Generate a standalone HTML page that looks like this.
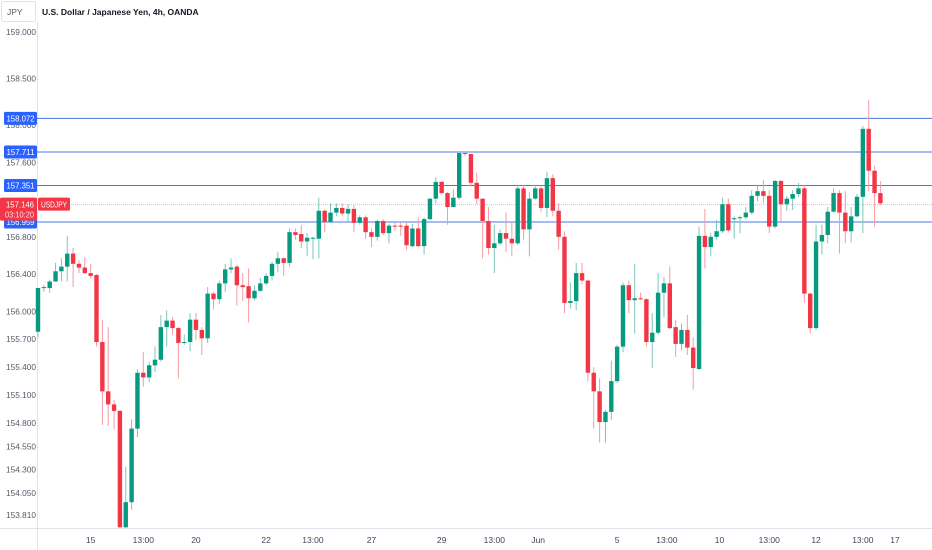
<!DOCTYPE html>
<html><head><meta charset="utf-8">
<style>
body{margin:0;background:#fff;font-family:"Liberation Sans",sans-serif;}
#wrap{position:relative;width:932px;height:550px;overflow:hidden;background:#fff;}
svg text{font-family:"Liberation Sans",sans-serif;}
</style></head>
<body>
<div id="wrap">
<svg id="chart" width="932" height="550"></svg>
</div>
<script>
const opens=[155.78,156.25,156.25,156.32,156.43,156.48,156.62,156.51,156.47,156.41,156.39,155.67,155.14,155.00,154.93,153.68,153.95,154.74,155.34,155.29,155.42,155.48,155.83,155.90,155.82,155.66,155.67,155.91,155.80,155.71,156.19,156.13,156.30,156.45,156.48,156.28,156.27,156.14,156.22,156.30,156.38,156.51,156.57,156.52,156.85,156.83,156.75,156.79,156.78,157.08,156.96,157.06,157.11,157.05,157.10,156.95,157.01,156.85,156.80,156.97,156.84,156.92,156.92,156.92,156.70,156.89,156.70,156.99,157.21,157.39,157.27,157.12,157.22,157.70,157.69,157.38,157.21,156.97,156.68,156.73,156.84,156.78,156.73,157.32,156.88,157.21,157.32,157.11,157.43,157.08,156.80,156.09,156.11,156.41,156.33,155.34,155.14,154.81,154.92,155.25,155.62,156.28,156.12,156.14,156.13,155.67,155.77,156.20,156.30,155.83,155.65,155.80,155.61,155.38,156.81,156.69,156.80,156.86,157.15,156.99,157.00,157.01,157.06,157.24,157.29,157.24,156.91,157.40,157.15,157.21,157.26,157.32,156.19,155.82,156.75,156.82,157.07,157.27,157.06,156.86,157.02,157.23,157.96,157.51,157.27];
const highs=[156.25,156.28,156.34,156.52,156.57,156.81,156.68,156.55,156.58,156.51,156.40,155.91,155.83,155.05,154.94,154.33,154.84,155.38,155.56,155.46,155.62,155.96,156.01,155.94,155.83,155.75,155.98,155.98,155.83,156.26,156.21,156.33,156.51,156.57,156.50,156.41,156.46,156.28,156.36,156.41,156.53,156.64,156.58,156.89,156.89,156.93,156.84,156.80,157.22,157.09,157.16,157.16,157.16,157.15,157.14,157.03,157.03,156.89,156.98,156.99,156.94,156.95,156.95,156.95,156.94,157.01,157.01,157.21,157.44,157.40,157.28,157.31,157.70,157.72,157.69,157.49,157.21,157.12,156.93,156.88,157.06,156.96,157.36,157.36,157.28,157.36,157.36,157.50,157.47,157.16,156.86,156.31,156.52,156.52,156.34,155.40,155.28,154.94,155.47,155.64,156.31,156.33,156.51,156.20,156.14,155.98,156.41,156.37,156.48,155.91,155.87,155.96,155.72,156.91,157.10,156.84,156.98,157.22,157.21,157.02,157.03,157.12,157.30,157.36,157.41,157.30,157.41,157.41,157.24,157.30,157.38,157.36,156.20,156.93,156.93,157.12,157.32,157.30,157.29,157.12,157.26,157.99,158.27,157.56,157.40];
const lows=[155.72,156.21,156.20,156.32,156.32,156.32,156.26,156.41,156.40,156.35,155.62,154.78,154.77,154.73,153.67,153.67,153.87,154.65,155.19,155.24,155.35,155.46,155.62,155.75,155.28,155.64,155.57,155.69,155.53,155.66,156.02,156.08,156.21,156.41,156.06,156.11,155.88,156.12,156.21,156.28,156.33,156.42,156.38,156.48,156.77,156.68,156.59,156.56,156.57,156.85,156.95,157.02,157.02,156.96,156.85,156.93,156.78,156.69,156.76,156.82,156.73,156.87,156.81,156.66,156.69,156.69,156.61,156.98,157.16,157.26,156.93,157.12,157.20,157.67,157.34,157.15,156.57,156.61,156.41,156.71,156.64,156.59,156.71,156.77,156.59,157.20,157.07,157.01,157.02,156.66,155.98,156.03,156.01,156.29,155.25,154.74,154.59,154.59,154.83,155.23,155.56,155.98,155.76,156.12,155.62,155.39,155.75,155.94,155.81,155.51,155.58,155.53,155.16,155.37,156.46,156.59,156.77,156.84,156.85,156.78,156.84,156.99,157.04,157.18,157.16,156.84,156.89,156.96,157.08,157.09,157.23,156.09,155.76,155.80,156.61,156.73,157.06,156.62,156.73,156.74,157.01,156.84,157.29,156.91,157.14];
const closes=[156.25,156.26,156.32,156.43,156.48,156.62,156.51,156.47,156.41,156.38,155.67,155.14,155.00,154.93,153.68,153.95,154.74,155.34,155.29,155.42,155.48,155.83,155.90,155.82,155.66,155.67,155.91,155.80,155.71,156.19,156.13,156.30,156.45,156.47,156.28,156.26,156.14,156.22,156.30,156.38,156.51,156.57,156.52,156.85,156.82,156.75,156.79,156.79,157.08,156.96,157.06,157.11,157.05,157.10,156.95,157.01,156.85,156.80,156.97,156.84,156.92,156.91,156.91,156.71,156.89,156.70,156.99,157.21,157.39,157.27,157.12,157.22,157.70,157.69,157.38,157.21,156.97,156.68,156.73,156.84,156.78,156.73,157.32,156.88,157.21,157.32,157.11,157.43,157.08,156.80,156.09,156.11,156.41,156.33,155.34,155.14,154.81,154.92,155.25,155.62,156.28,156.12,156.14,156.13,155.67,155.77,156.20,156.30,155.82,155.65,155.80,155.61,155.39,156.81,156.69,156.80,156.86,157.15,156.87,157.00,157.01,157.06,157.24,157.29,157.24,156.91,157.40,157.15,157.21,157.26,157.32,156.19,155.82,156.75,156.82,157.07,157.27,157.06,156.86,157.02,157.23,157.96,157.51,157.27,157.16];
const priceTicks=[159.000,158.500,158.000,157.600,157.100,156.800,156.400,156.000,155.700,155.400,155.100,154.800,154.550,154.300,154.050,153.810];
const levelLines=[158.072,157.711,157.351,156.959];
const currentPrice=157.146;
const timeLabels=["15","13:00","20","22","13:00","27","29","13:00","Jun","5","13:00","10","13:00","12","13:00","17"];
const timeLabelIdx=[9,18,27,39,47,57,69,78,85.5,99,107.5,116.5,125,133,141,146.5];

const NS="http://www.w3.org/2000/svg";
const svg=document.getElementById('chart');
function yS(p){return 32+(159-p)*93.1;}
function xS(i){return 38+i*5.85;}
function el(tag,attrs,parent){const e=document.createElementNS(NS,tag);for(const k in attrs)e.setAttribute(k,attrs[k]);(parent||svg).appendChild(e);return e;}
function txt(s,attrs,parent){const t=el('text',attrs,parent);t.textContent=s;return t;}

const ax=el('line',{x1:37.5,y1:22,x2:37.5,y2:550,stroke:'#e0e3eb','stroke-width':1});


const bx=el('line',{x1:0,y1:528.5,x2:932,y2:528.5,stroke:'#e0e3eb','stroke-width':1});



priceTicks.forEach(p=>{
  const t=txt(p.toFixed(3),{x:6,y:yS(p)+3,'font-size':8.5,fill:'#555a66',textLength:30,lengthAdjust:'spacingAndGlyphs'});
  
  
});
timeLabels.forEach((s,k)=>{
  const t=txt(s,{x:xS(timeLabelIdx[k]),y:543,'font-size':8.5,fill:'#434651','text-anchor':'middle'});
  
  
});

const cp=el('line',{x1:37,y1:yS(currentPrice),x2:932,y2:yS(currentPrice),stroke:'#f7b4bb','stroke-width':1,'stroke-dasharray':'1,1'});



levelLines.forEach(p=>{
  const l=el('line',{x1:37,y1:yS(p),x2:932,y2:yS(p),stroke:'#4a77e8','stroke-width':1});
  
  
});

for(let i=0;i<opens.length;i++){
  const up=closes[i]>=opens[i];
  const col=up?'#089981':'#f23645';
  const wc=up?'#7cc7b8':'#f59aa3';
  const x=xS(i);
  const g=el('g',{});
  
  
  el('line',{x1:x,y1:yS(highs[i]),x2:x,y2:Math.min(yS(lows[i]),528),stroke:wc,'stroke-width':1},g);
  const top=yS(Math.max(opens[i],closes[i])),bot=yS(Math.min(opens[i],closes[i]));
  el('rect',{x:x-2.2,y:top,width:4.4,height:Math.max(1,Math.min(bot,528)-top),fill:col},g);
}

levelLines.forEach(p=>{
  const g=el('g',{});
  
  
  el('rect',{x:4,y:yS(p)-6.5,width:33,height:13,rx:1.5,fill:'#2962ff'},g);
  txt(p.toFixed(3),{x:6.5,y:yS(p)+3,'font-size':8.5,fill:'#fff',textLength:28,lengthAdjust:'spacingAndGlyphs'},g);
});
const cb=el('g',{});


el('rect',{x:0,y:yS(currentPrice)-7,width:37,height:23,rx:1.5,fill:'#f23645'},cb);
txt(currentPrice.toFixed(3),{x:6,y:yS(currentPrice)+3,'font-size':8.5,fill:'#fff',textLength:28,lengthAdjust:'spacingAndGlyphs'},cb);
txt('03:10:20',{x:5,y:yS(currentPrice)+13,'font-size':8,fill:'#fde0e3',textLength:29,lengthAdjust:'spacingAndGlyphs'},cb);
const sb=el('g',{});


el('rect',{x:38,y:yS(currentPrice)-7,width:32,height:13,rx:1.5,fill:'#f23645'},sb);
txt('USDJPY',{x:41,y:yS(currentPrice)+3,'font-size':8,fill:'#fff',textLength:26,lengthAdjust:'spacingAndGlyphs'},sb);

const jb=el('g',{});


el('rect',{x:1.5,y:1.5,width:34,height:20,rx:2,fill:'#fff',stroke:'#e0e3eb'},jb);
txt('JPY',{x:7,y:15,'font-size':8.5,fill:'#555a66'},jb);
const tt=txt('U.S. Dollar / Japanese Yen, 4h, OANDA',{x:42,y:15,'font-size':8.5,'font-weight':'bold',fill:'#131722'});


</script>
</body></html>
